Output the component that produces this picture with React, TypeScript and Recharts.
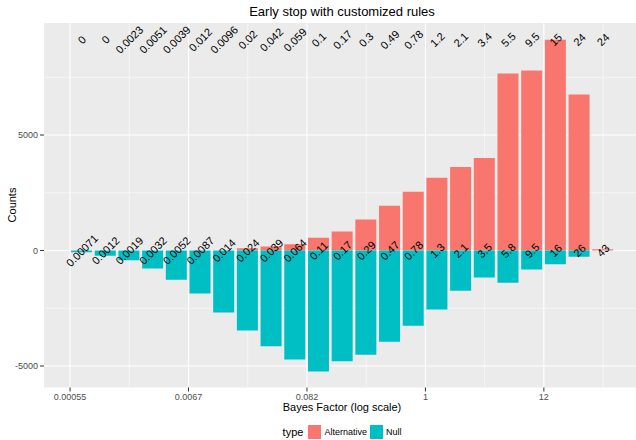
import { ComposedChart, Bar, Line, XAxis, YAxis, CartesianGrid, LabelList } from 'recharts';

// bin centres on the natural-log scale of the Bayes factor
const binCenters = [
  -7.25, -6.75, -6.25, -5.75, -5.25, -4.75, -4.25, -3.75, -3.25, -2.75, -2.25, -1.75,
  -1.25, -0.75, -0.25, 0.25, 0.75, 1.25, 1.75, 2.25, 2.75, 3.25, 3.75,
];
const alternativeCounts = [
  0, 0, 0, 0, 0, 0, 0, 100, 175, 275, 550, 820, 1340, 1935, 2540, 3150, 3620, 4010, 7660,
  7790, 9130, 6750, 50,
];
const nullCounts = [
  80, 230, 420, 780, 1270, 1860, 2680, 3460, 4140, 4720, 5240, 4790, 4515, 3950, 3260, 2550,
  1745, 1170, 1400, 820, 590, 270, 0,
];
const topLabels = [
  '0', '0', '0.0023', '0.0051', '0.0039', '0.012', '0.0096', '0.02', '0.042', '0.059', '0.1',
  '0.17', '0.3', '0.49', '0.78', '1.2', '2.1', '3.4', '5.5', '9.5', '15', '24', '24',
];
const bottomLabels = [
  '0.00071', '0.0012', '0.0019', '0.0032', '0.0052', '0.0087', '0.014', '0.024', '0.039',
  '0.064', '0.11', '0.17', '0.29', '0.47', '0.78', '1.3', '2.1', '3.5', '5.8', '9.5', '16',
  '26', '43',
];
const xTicks = [-7.5, -5, -2.5, 0, 2.5];
const xTickLabels = ['0.00055', '0.0067', '0.082', '1', '12'];

const ALT = '#F8766D';
const NUL = '#00BFC4';
const FONT = '"Liberation Sans", Arial, sans-serif';

const maxAlt = Math.max(...alternativeCounts);
const data = binCenters.map((ln, i) => ({
  ln,
  alternative: alternativeCounts[i],
  nul: -nullCounts[i],
  top: maxAlt,
  zero: 0,
  topLabel: topLabels[i],
  bottomLabel: bottomLabels[i],
}));

const SlantLabel = (props: any) => {
  const { x, y, value } = props;
  return (
    <text
      x={x}
      y={y}
      transform={`rotate(-45 ${x} ${y})`}
      textAnchor="middle"
      dominantBaseline="central"
      fontSize={11}
      fontFamily={FONT}
      fill="#000"
    >
      {value}
    </text>
  );
};

export default function App() {
  return (
    <div style={{ position: 'relative', width: 636, height: 440, overflow: 'hidden', fontFamily: FONT }}>
      <style>{'body{margin:0}'}</style>
      <div style={{ position: 'absolute', left: 142, width: 400, top: 4, lineHeight: '16px', fontSize: 13, textAlign: 'center', color: '#000' }}>
        Early stop with customized rules
      </div>
      <ComposedChart
        width={646}
        height={440}
        data={data}
        stackOffset="sign"
        margin={{ top: 23, right: 5, bottom: 22.5, left: 0 }}
      >
        <CartesianGrid
          fill="#EBEBEB"
          stroke="#FFFFFF"
          strokeWidth={0.55}
          horizontalValues={[-2500, 2500, 7500]}
          verticalValues={[-6.25, -3.75, -1.25, 1.25, 3.75]}
        />
        <CartesianGrid
          stroke="#FFFFFF"
          strokeWidth={1.1}
          horizontalValues={[-5000, 0, 5000]}
          verticalValues={xTicks}
        />
        <XAxis
          dataKey="ln"
          type="number"
          domain={[-8.05, 4.55]}
          allowDataOverflow
          ticks={xTicks}
          tickFormatter={(v: number) => xTickLabels[xTicks.indexOf(v)]}
          axisLine={false}
          tickSize={4}
          tickLine={{ stroke: '#333333' }}
          tick={{ fill: '#4D4D4D', fontSize: 9, fontFamily: FONT }}
          height={30}
        />
        <YAxis
          type="number"
          domain={[-5930, 9850]}
          allowDataOverflow
          ticks={[-5000, 0, 5000]}
          axisLine={false}
          tickSize={4}
          tickLine={{ stroke: '#333333' }}
          tick={{ fill: '#4D4D4D', fontSize: 9, fontFamily: FONT }}
          width={44}
        />
        <Bar dataKey="alternative" stackId="s" fill={ALT} barSize={21} isAnimationActive={false} />
        <Bar dataKey="nul" stackId="s" fill={NUL} barSize={21} isAnimationActive={false} />
        <Line dataKey="top" stroke="none" dot={false} activeDot={false} legendType="none" isAnimationActive={false}>
          <LabelList dataKey="topLabel" content={SlantLabel} />
        </Line>
        <Line dataKey="zero" stroke="none" dot={false} activeDot={false} legendType="none" isAnimationActive={false}>
          <LabelList dataKey="bottomLabel" content={SlantLabel} />
        </Line>
      </ComposedChart>
      <div
        style={{
          position: 'absolute', left: 11.5, top: 205, fontSize: 11, color: '#000',
          transform: 'translate(-50%, -50%) rotate(-90deg)', whiteSpace: 'nowrap', lineHeight: '13px',
        }}
      >
        Counts
      </div>
      <div style={{ position: 'absolute', left: 142, width: 400, top: 400, lineHeight: '15px', fontSize: 11, textAlign: 'center', color: '#000' }}>
        Bayes Factor (log scale)
      </div>
      <div
        style={{
          position: 'absolute', left: 142, width: 400, top: 424, height: 16,
          display: 'flex', alignItems: 'center', justifyContent: 'center', color: '#000',
        }}
      >
        <span style={{ fontSize: 11, marginRight: 5 }}>type</span>
        <span style={{ width: 13, height: 14, background: ALT, marginRight: 3 }} />
        <span style={{ fontSize: 9, marginRight: 3 }}>Alternative</span>
        <span style={{ width: 13, height: 14, background: NUL, marginRight: 3 }} />
        <span style={{ fontSize: 9 }}>Null</span>
      </div>
    </div>
  );
}
